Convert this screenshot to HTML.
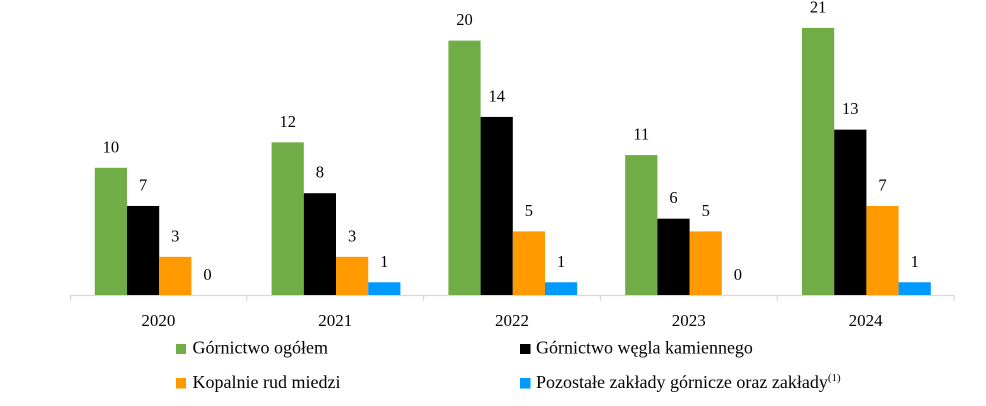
<!DOCTYPE html>
<html><head><meta charset="utf-8"><style>
html,body{margin:0;padding:0;background:#fff;}
svg{display:block;}
text{font-family:"Liberation Serif",serif;fill:#000;}
.v{font-size:16.5px;text-anchor:middle;}
.y{font-size:17px;text-anchor:middle;}
.l{font-size:18px;}
</style></head><body>
<svg width="986" height="406" viewBox="0 0 986 406" xmlns="http://www.w3.org/2000/svg">
<rect width="986" height="406" fill="#fff"/>
<!-- axis -->
<line x1="70" y1="295.5" x2="954.5" y2="295.5" stroke="#d9d9d9" stroke-width="1.2"/>
<g stroke="#d9d9d9" stroke-width="1.2">
<line x1="70.5" y1="295" x2="70.5" y2="301"/>
<line x1="246.8" y1="295" x2="246.8" y2="301"/>
<line x1="423.6" y1="295" x2="423.6" y2="301"/>
<line x1="600.4" y1="295" x2="600.4" y2="301"/>
<line x1="777.2" y1="295" x2="777.2" y2="301"/>
<line x1="954" y1="295" x2="954" y2="301"/>
</g>
<!-- 2020 -->
<rect x="94.8" y="167.8" width="32.2" height="127.2" fill="#70ad47"/>
<rect x="127" y="205.96" width="32.2" height="89.04" fill="#000"/>
<rect x="159.2" y="256.84" width="32.2" height="38.16" fill="#ff9900"/>
<!-- 2021 -->
<rect x="271.6" y="142.36" width="32.2" height="152.64" fill="#70ad47"/>
<rect x="303.8" y="193.24" width="32.2" height="101.76" fill="#000"/>
<rect x="336" y="256.84" width="32.2" height="38.16" fill="#ff9900"/>
<rect x="368.2" y="282.28" width="32.2" height="12.72" fill="#0099ff"/>
<!-- 2022 -->
<rect x="448.4" y="40.6" width="32.2" height="254.4" fill="#70ad47"/>
<rect x="480.6" y="116.92" width="32.2" height="178.08" fill="#000"/>
<rect x="512.8" y="231.4" width="32.2" height="63.6" fill="#ff9900"/>
<rect x="545" y="282.28" width="32.2" height="12.72" fill="#0099ff"/>
<!-- 2023 -->
<rect x="625.2" y="155.08" width="32.2" height="139.92" fill="#70ad47"/>
<rect x="657.4" y="218.68" width="32.2" height="76.32" fill="#000"/>
<rect x="689.6" y="231.4" width="32.2" height="63.6" fill="#ff9900"/>
<!-- 2024 -->
<rect x="802" y="27.88" width="32.2" height="267.12" fill="#70ad47"/>
<rect x="834.2" y="129.64" width="32.2" height="165.36" fill="#000"/>
<rect x="866.4" y="206" width="32.2" height="89" fill="#ff9900"/>
<rect x="898.6" y="282.28" width="32.2" height="12.72" fill="#0099ff"/>

<!-- value labels -->
<text class="v" x="110.9" y="152.3">10</text>
<text class="v" x="143.1" y="190.5">7</text>
<text class="v" x="175.3" y="241.3">3</text>
<text class="v" x="207.5" y="279.8">0</text>

<text class="v" x="287.7" y="126.9">12</text>
<text class="v" x="319.9" y="177.7">8</text>
<text class="v" x="352.1" y="241.3">3</text>
<text class="v" x="384.3" y="266.8">1</text>

<text class="v" x="464.5" y="25.1">20</text>
<text class="v" x="496.7" y="101.4">14</text>
<text class="v" x="528.9" y="215.9">5</text>
<text class="v" x="561.1" y="266.8">1</text>

<text class="v" x="641.3" y="139.6">11</text>
<text class="v" x="673.5" y="203.2">6</text>
<text class="v" x="705.7" y="215.9">5</text>
<text class="v" x="737.9" y="279.8">0</text>

<text class="v" x="818.1" y="12.4">21</text>
<text class="v" x="850.3" y="114.1">13</text>
<text class="v" x="882.5" y="190.5">7</text>
<text class="v" x="914.7" y="266.8">1</text>

<!-- year labels -->
<text class="y" x="158.4" y="326">2020</text>
<text class="y" x="335.2" y="326">2021</text>
<text class="y" x="512" y="326">2022</text>
<text class="y" x="688.8" y="326">2023</text>
<text class="y" x="865.6" y="326">2024</text>

<!-- legend -->
<rect x="176" y="344" width="10" height="10" fill="#70ad47"/>
<text class="l" x="192.5" y="353.5">Górnictwo ogółem</text>
<rect x="520" y="344" width="10.5" height="10" fill="#000"/>
<text class="l" x="536" y="353.5">Górnictwo węgla kamiennego</text>
<rect x="176" y="378" width="10" height="10.5" fill="#ff9900"/>
<text class="l" x="192.5" y="388">Kopalnie rud miedzi</text>
<rect x="520" y="378" width="10.5" height="10.5" fill="#0099ff"/>
<text class="l" x="536" y="388">Pozostałe zakłady górnicze oraz zakłady<tspan font-size="11" dy="-7">(1)</tspan></text>
</svg>
</body></html>
